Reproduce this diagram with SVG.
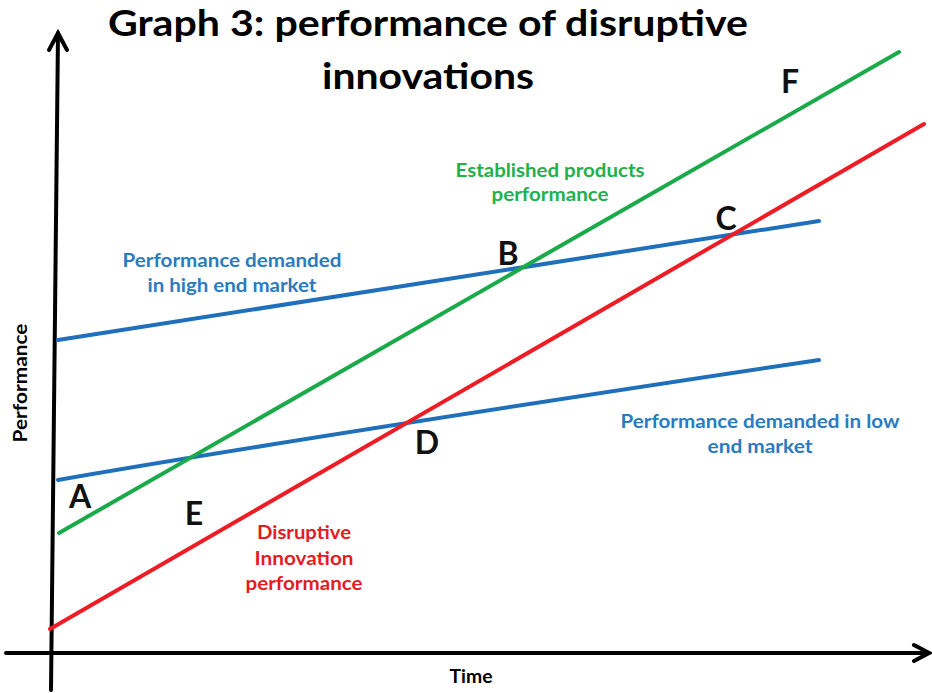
<svg xmlns="http://www.w3.org/2000/svg" width="932" height="693" viewBox="0 0 932 693">
<style>
text{font-family:Lato,"Liberation Sans",sans-serif;font-weight:bold;}
.title{font-size:37px;fill:#000;}
.lbl{font-size:19px;}
.blue{fill:#2a7bc0;}
.green{fill:#22b04a;}
.red{fill:#e41b23;}
.pt{font-size:32px;fill:#111;}
.ax{font-size:18px;fill:#000;}
.axis{stroke:#000;stroke-width:4;fill:none;stroke-linecap:round;}
.line{stroke-width:4;fill:none;stroke-linecap:round;}
</style>
<rect width="932" height="693" fill="#fff"/>
<g id="title">
<text class="title" x="428" y="36" text-anchor="middle" textLength="640" lengthAdjust="spacingAndGlyphs">Graph 3: performance of disruptive</text>
<text class="title" x="428" y="89" text-anchor="middle" textLength="212" lengthAdjust="spacingAndGlyphs">innovations</text>
</g>
<g id="axes">
<path class="axis" d="M51 690 L58 33"/>
<path class="axis" d="M49 50 L58 33 L67 50"/>
<path class="axis" d="M6 653 L928 653"/>
<path class="axis" d="M914 645 L929 653 L914 661"/>
<text class="ax" transform="translate(27 383) rotate(-90)" text-anchor="middle" textLength="119" lengthAdjust="spacingAndGlyphs">Performance</text>
<text class="ax" x="471" y="683" text-anchor="middle" textLength="43" lengthAdjust="spacingAndGlyphs">Time</text>
</g>
<g id="connectors">
<path id="high-end" class="line" stroke="#1f6fba" d="M58 340 L819 221"/>
<path id="low-end" class="line" stroke="#1f6fba" d="M58 480 Q300 438 819 360"/>
<path id="established" class="line" stroke="#1aaa4a" d="M59 533 L899 52"/>
<path id="disruptive" class="line" stroke="#ee1c24" d="M50 629 L924 124"/>
</g>
<g id="label-established">
<text class="lbl green" x="550" y="177" text-anchor="middle" textLength="189" lengthAdjust="spacingAndGlyphs">Established products</text>
<text class="lbl green" x="550" y="201" text-anchor="middle" textLength="117" lengthAdjust="spacingAndGlyphs">performance</text>
</g>
<g id="label-high">
<text class="lbl blue" x="232" y="267" text-anchor="middle" textLength="219" lengthAdjust="spacingAndGlyphs">Performance demanded</text>
<text class="lbl blue" x="232" y="292" text-anchor="middle" textLength="169" lengthAdjust="spacingAndGlyphs">in high end market</text>
</g>
<g id="label-low">
<text class="lbl blue" x="760" y="428" text-anchor="middle" textLength="279" lengthAdjust="spacingAndGlyphs">Performance demanded in low</text>
<text class="lbl blue" x="760" y="453" text-anchor="middle" textLength="105" lengthAdjust="spacingAndGlyphs">end market</text>
</g>
<g id="label-disruptive">
<text class="lbl red" x="304" y="539" text-anchor="middle" textLength="94" lengthAdjust="spacingAndGlyphs">Disruptive</text>
<text class="lbl red" x="304" y="565" text-anchor="middle" textLength="99" lengthAdjust="spacingAndGlyphs">Innovation</text>
<text class="lbl red" x="304" y="590" text-anchor="middle" textLength="117" lengthAdjust="spacingAndGlyphs">performance</text>
</g>
<g id="points">
<text class="pt" x="80" y="508" text-anchor="middle">A</text>
<text class="pt" x="508" y="265" text-anchor="middle">B</text>
<text class="pt" x="726" y="230" text-anchor="middle">C</text>
<text class="pt" x="427" y="454" text-anchor="middle">D</text>
<text class="pt" x="194" y="525" text-anchor="middle">E</text>
<text class="pt" x="790" y="93" text-anchor="middle">F</text>
</g>
</svg>
